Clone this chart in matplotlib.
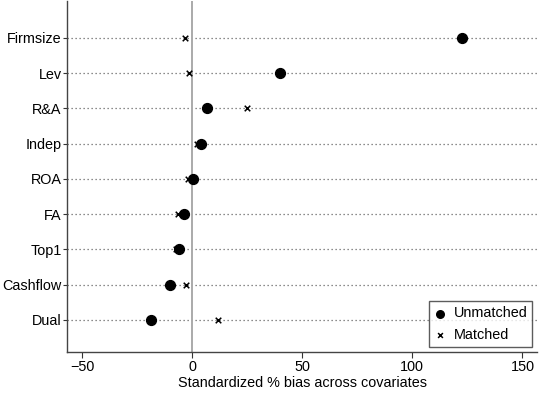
import numpy as np
import matplotlib.pyplot as plt

plt.rcParams['font.family'] = ['Liberation Sans', 'DejaVu Sans']

# Covariates, top to bottom
covariates = ['Firmsize', 'Lev', 'R&A', 'Indep', 'ROA', 'FA', 'Top1', 'Cashflow', 'Dual']
unmatched = [122.7, 40.0, 6.8, 4.2, 0.5, -3.6, -5.9, -10.0, -18.8]
matched = [-3.2, -1.4, 25.0, 2.3, -1.8, -6.4, -7.3, -2.6, 11.7]

x_ticks = [-50, 0, 50, 100, 150]

fig = plt.figure(figsize=(5.5, 3.94), dpi=100)
ax = fig.add_axes([0.122, 0.1066, 0.855, 0.89])

pos = np.arange(len(covariates))[::-1] + 1

# dotted guide lines for each covariate
for p in pos:
    ax.axhline(p, color='#666666', linestyle=(0, (1, 2.2)), linewidth=0.9, zorder=1)

ax.axvline(0, color='#aaaaaa', linewidth=1.4, zorder=2)

ax.scatter(unmatched, pos, s=50, color='black', marker='o', label='Unmatched', zorder=3)
ax.scatter(matched, pos, s=16, color='black', marker='x', linewidths=1.1, label='Matched', zorder=4)

ax.set_xlim(-56.8, 156.8)
ax.set_ylim(0.09, 10.04)
ax.set_xticks(x_ticks)
ax.set_yticks(pos)
ax.set_yticklabels(covariates)
ax.tick_params(axis='both', labelsize=10.4, colors='#333333', labelcolor='black')
ax.tick_params(axis='y', length=3, pad=1)
ax.tick_params(axis='x', length=4, pad=2)
ax.set_xlabel('Standardized % bias across covariates', fontsize=10.4, labelpad=1)

for side in ['top', 'right']:
    ax.spines[side].set_visible(False)
for side in ['left', 'bottom']:
    ax.spines[side].set_color('#444444')
    ax.spines[side].set_linewidth(1.0)

leg = ax.legend(loc='lower right', fontsize=10.4, frameon=True, fancybox=False,
                edgecolor='#333333', handletextpad=0.55, borderpad=0.35,
                handlelength=0.8, borderaxespad=0, bbox_to_anchor=(0.9895, 0.015))
leg.get_frame().set_linewidth(1.0)
leg.legend_handles[0].set_sizes([30])
leg.legend_handles[1].set_sizes([12])

fig.savefig('out.png', dpi=100)
